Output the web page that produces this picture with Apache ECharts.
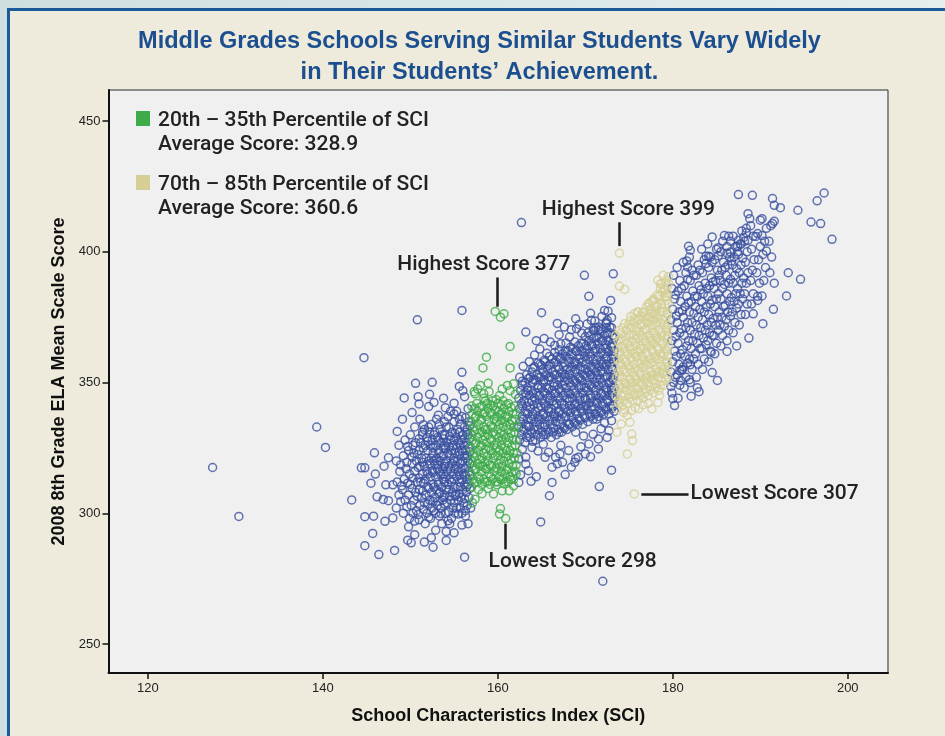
<!DOCTYPE html>
<html>
<head>
<meta charset="utf-8">
<title>Middle Grades Schools Serving Similar Students</title>
<script src="https://cdn.jsdelivr.net/npm/echarts@6/dist/echarts.min.js"></script>
<style>
  html, body { margin: 0; padding: 0; }
  body { width: 945px; height: 736px; position: relative; overflow: hidden;
         background: linear-gradient(90deg, #cfdfe0, #e4eeee); }
  .panel { position: absolute; left: 7px; top: 8px; width: 960px; height: 760px;
           background: #eeebdc; border-left: 3px solid #1b5a99; border-top: 3px solid #1b5a99; }
  #chart { position: absolute; left: 0; top: 0; width: 945px; height: 736px; }
</style>
</head>
<body>
<div class="panel"></div>
<div id="chart"></div>
<script>
// axis ticks
var xTicks = [120, 140, 160, 180, 200]
var yTicks = [250, 300, 350, 400, 450]

// schools outside the two highlighted SCI bands (SCI, score)
var blueSchools = [
  // far left / scattered
  [127.4,317.5],[130.4,298.8],[139.3,333.0],[140.3,325.2],[143.3,305.1],[144.4,317.4],[144.8,317.4],[144.7,359.5],
  [145.9,323.1],[147.5,321.2],[148.5,331.3],[149.3,344.1],[150.6,349.7],[152.5,350.1],[150.9,344.6],[151.0,341.8],
  [152.7,342.4],[152.1,340.8],[154.0,340.4],[155.9,353.9],[156.0,346.9],[156.2,344.6],[155.0,342.1],[151.5,333.9],
  [144.8,298.7],[145.8,298.9],[146.2,306.3],[146.9,305.3],[147.5,304.8],[147.2,310.9],[148.0,310.9],[147.1,296.9],
  [148.0,298.2],[145.7,292.3],[144.8,287.6],[146.4,284.2],[148.2,285.8],[149.8,294.8],[150.5,291.8],[149.7,289.7],
  [150.1,288.7],[151.6,289.0],[152.4,290.6],[154.1,289.6],[156.2,283.2],[153.5,299.9],[154.3,297.1],[155.5,299.7],
  [156.3,299.0],[156.9,302.0],[150.8,374.0],[155.9,377.6],[153.2,337.5],[154.6,339.0],[156.6,340.0],[153.8,344.0],
  [155.6,348.5],[152.2,345.5],[150.2,338.5],[152.9,293.5],[153.6,296.0],[155.0,292.5],[155.9,295.5],[151.0,297.5],
  [152.6,287.0],[156.6,296.0],[146.0,315.0],[147.0,318.0],[145.5,311.5],
  // dense left cluster
  [148.4,302],[148.7,307],[148.5,312],[148.8,316],[148.4,320],[148.7,326],
  [149.2,300],[149.4,305],[149.1,309],[149.3,313],[149.5,317],[149.2,322],[149.4,328],[149.1,336],
  [149.9,298],[150.1,303],[149.8,307],[150.0,311],[149.9,315],[150.2,319],[149.8,324],[150.0,330],
  [150.5,297],[150.7,301],[150.4,305],[150.6,308],[150.8,312],[150.5,316],[150.7,320],[150.4,323],[150.6,327],[150.5,333],
  [151.1,303],[151.3,306],[151.0,309],[151.2,312],[151.4,315],[151.1,318],[151.3,321],[151.0,324],[151.2,327],[151.4,330],[151.1,336],
  [151.7,296],[151.9,300],[151.6,304],[151.8,307],[152.0,310],[151.7,313],[151.9,316],[151.6,318],[151.8,321],[152.0,324],[151.7,326],[151.9,329],[151.6,332],
  [152.3,298],[152.5,302],[152.2,305],[152.4,308],[152.6,311],[152.3,314],[152.5,316],[152.2,319],[152.4,321],[152.6,323],[152.3,326],[152.5,328],[152.2,331],[152.4,334],
  [152.9,300],[153.1,303],[152.8,306],[153.0,309],[153.2,312],[152.9,314],[153.1,317],[152.8,319],[153.0,321],[153.2,324],[152.9,326],[153.1,329],[152.8,331],[153.0,336],
  [153.5,302],[153.7,305],[153.4,308],[153.6,310],[153.8,313],[153.5,315],[153.7,317],[153.4,320],[153.6,322],[153.8,325],[153.5,327],[153.7,330],[153.4,332],
  [154.1,293],[154.0,300],[154.2,304],[153.9,307],[154.1,309],[154.3,311],[154.0,314],[154.2,316],[153.9,318],[154.1,320],[154.3,323],[154.0,325],[154.2,327],[153.9,330],[154.1,333],[154.3,337],
  [154.7,298],[154.9,302],[154.6,305],[154.8,308],[155.0,310],[154.7,312],[154.9,315],[154.6,317],[154.8,319],[155.0,321],[154.7,324],[154.9,326],[154.6,328],[154.8,331],[155.0,335],
  [155.3,302],[155.5,305],[155.2,307],[155.4,310],[155.6,312],[155.3,314],[155.5,316],[155.2,318],[155.4,320],[155.6,322],[155.3,325],[155.5,327],[155.2,329],[155.4,332],[155.6,336],[155.3,339],
  [155.9,300],[156.1,304],[155.8,306],[156.0,309],[156.2,311],[155.9,313],[156.1,315],[155.8,317],[156.0,320],[156.2,322],[155.9,324],[156.1,326],[155.8,328],[156.0,330],[156.2,333],[155.9,337],
  [156.5,303],[156.7,306],[156.4,308],[156.6,311],[156.5,313],[156.7,316],[156.4,318],[156.6,320],[156.5,322],[156.7,325],[156.4,327],[156.6,330],[156.5,332],[156.7,335],
  [148.9,304.5],[149.0,310.5],[148.9,318.5],[149.6,302.5],[149.7,311.5],[149.6,319.5],[149.7,325.5],[150.3,300],[150.2,309.5],[150.3,313.5],
  [150.2,321.5],[150.3,326],[150.9,299.5],[150.8,306.5],[151.0,313.5],[150.9,317.5],[150.8,322.5],[151.0,328.5],[151.5,301.5],[151.4,308.5],
  [151.5,311.5],[151.4,319.5],[151.5,325],[151.4,331],[152.1,298.5],[152.0,303.5],[152.1,309.5],[152.0,315],[152.1,320],[152.0,327.5],
  [152.1,333],[152.7,301],[152.6,304.5],[152.7,310],[152.6,315.5],[152.7,320],[152.6,325],[152.7,330],[153.3,299],[153.2,304.5],
  [153.3,307.5],[153.2,311],[153.3,316],[153.2,318.5],[153.3,323],[153.2,328],[153.3,334],[153.9,303.5],[153.8,306],[153.9,312],
  [153.8,315],[153.9,319],[153.8,322],[153.9,326],[153.8,328.5],[153.9,335],[154.5,296],[154.4,300.5],[154.5,306.5],[154.4,309],
  [154.5,313],[154.4,318],[154.5,322],[154.4,325.5],[154.5,329.5],[154.4,333],[155.1,300],[155.0,304],[155.1,306.5],[155.0,313],
  [155.1,317],[155.0,320],[155.1,323],[155.0,328],[155.1,330.5],[155.0,338],[155.7,302],[155.6,307.5],[155.7,310],[155.6,314.5],
  [155.7,319],[155.6,323.5],[155.7,326],[155.6,331],[155.7,334],[156.3,301],[156.2,305.5],[156.4,310],[156.3,314.5],[156.2,317],
  [156.4,321],[156.3,324],[156.2,328.5],[156.4,331],[156.3,336.5],[156.8,309.5],[156.8,314.5],[156.8,319],[156.8,323.5],[156.8,328.5],[156.8,333.5],
  // middle band scatter
  [162.7,411.2],[169.9,391.0],[173.2,391.6],[170.4,383.0],[172.9,381.4],[165.0,376.7],[163.2,369.3],[172.2,377.6],
  [172.6,377.3],[173.0,374.8],[172.5,373.8],[170.7,373.8],[171.1,373.5],[171.5,371.2],[172.8,371.2],[169.3,372.2],
  [169.0,370.6],[168.2,367.4],[167.8,365.1],[167.2,364.8],[166.5,364.2],[165.0,356.5],[164.2,360.5],[164.8,362.8],
  [165.6,361.2],[166.0,365.5],[163.6,358.0],[162.9,356.2],[165.3,366.8],[167.0,368.3],[168.4,370.2],[169.6,368.9],
  [170.2,372.4],[171.0,369.8],[171.8,370.5],[172.4,372.5],[168.9,374.4],[167.6,371.2],[170.6,376.5],[171.9,375.3],
  [166.8,372.6],[164.4,366.0],
  [164.9,296.7],[165.9,306.7],[166.2,311.8],[171.6,310.2],[173.0,316.5],[172.0,274.0],[170.6,321.6],[171.5,324.6],
  [167.7,314.8],[168.4,317.6],[168.8,319.5],[169.2,321.4],[170.0,322.7],[170.4,326.5],[171.5,328.4],[172.5,329.0],
  [172.7,331.6],[173.0,335.4],[171.8,332.3],[164.4,314.0],[163.5,316.3],[163.2,318.8],[162.4,311.8],[162.4,320.8],
  [163.2,321.4],[165.4,321.4],[165.8,323.3],[166.6,321.4],[167.1,322.7],[167.4,319.5],[166.8,318.9],[166.2,317.6],
  [162.8,324.5],[163.9,325.2],[164.6,323.8],[165.2,326.4],[162.6,314.7],[163.8,312.2],[169.5,325.4],[168.1,324.0],
  [167.2,326.0],[170.9,330.2],[169.8,329.6],[172.2,334.6],[168.9,331.0],[171.3,336.0],[168.9,320.9],
  // dense middle band
  [162.5,328],[162.7,330],[162.4,333],[162.6,335],[162.8,337],[162.5,340],[162.7,342],[162.4,344],[162.6,347],[162.8,349],[162.5,352],
  [163.1,327],[163.3,329],[163.0,332],[163.2,334],[163.4,336],[163.1,339],[163.3,341],[163.0,343],[163.2,346],[163.4,348],[163.1,350],[163.3,353],
  [163.7,329],[163.9,331],[163.6,333],[163.8,336],[164.0,338],[163.7,340],[163.9,343],[163.6,345],[163.8,347],[164.0,350],[163.7,352],[163.9,354],
  [164.3,328],[164.5,330],[164.2,333],[164.4,335],[164.6,337],[164.3,339],[164.5,342],[164.2,344],[164.4,346],[164.6,349],[164.3,351],[164.5,353],[164.2,356],
  [164.9,329],[165.1,331],[164.8,334],[165.0,336],[165.2,338],[164.9,341],[165.1,343],[164.8,345],[165.0,348],[165.2,350],[164.9,352],[165.1,355],[164.8,357],
  [165.5,330],[165.7,332],[165.4,334],[165.6,337],[165.8,339],[165.5,341],[165.7,344],[165.4,346],[165.6,348],[165.8,351],[165.5,353],[165.7,355],[165.4,358],
  [166.1,329],[166.3,331],[166.0,334],[166.2,336],[166.4,338],[166.1,340],[166.3,343],[166.0,345],[166.2,347],[166.4,350],[166.1,352],[166.3,354],[166.0,357],[166.2,359],
  [166.7,330],[166.9,332],[166.6,335],[166.8,337],[167.0,339],[166.7,342],[166.9,344],[166.6,346],[166.8,349],[167.0,351],[166.7,353],[166.9,356],[166.6,358],[166.8,360],
  [167.3,331],[167.5,333],[167.2,336],[167.4,338],[167.6,340],[167.3,342],[167.5,345],[167.2,347],[167.4,349],[167.6,352],[167.3,354],[167.5,356],[167.2,359],[167.4,361],
  [167.9,332],[168.1,334],[167.8,337],[168.0,339],[168.2,341],[167.9,344],[168.1,346],[167.8,348],[168.0,351],[168.2,353],[167.9,355],[168.1,358],[167.8,360],[168.0,362],
  [168.5,333],[168.7,335],[168.4,337],[168.6,340],[168.8,342],[168.5,344],[168.7,347],[168.4,349],[168.6,351],[168.8,354],[168.5,356],[168.7,358],[168.4,361],[168.6,363],
  [169.1,334],[169.3,336],[169.0,338],[169.2,341],[169.4,343],[169.1,345],[169.3,348],[169.0,350],[169.2,352],[169.4,355],[169.1,357],[169.3,359],[169.0,362],[169.2,364],
  [169.7,334],[169.9,337],[169.6,339],[169.8,341],[170.0,344],[169.7,346],[169.9,348],[169.6,351],[169.8,353],[170.0,355],[169.7,358],[169.9,360],[169.6,362],[169.8,365],
  [170.3,335],[170.5,338],[170.2,340],[170.4,342],[170.6,345],[170.3,347],[170.5,349],[170.2,352],[170.4,354],[170.6,356],[170.3,359],[170.5,361],[170.2,363],[170.4,366],[170.3,369],
  [170.9,336],[171.1,338],[170.8,341],[171.0,343],[171.2,345],[170.9,348],[171.1,350],[170.8,352],[171.0,355],[171.2,357],[170.9,359],[171.1,362],[170.8,364],[171.0,367],[170.9,370],
  [171.5,337],[171.7,339],[171.4,342],[171.6,344],[171.8,346],[171.5,349],[171.7,351],[171.4,353],[171.6,356],[171.8,358],[171.5,360],[171.7,363],[171.4,365],[171.6,367],[171.5,370],
  [172.1,338],[172.3,340],[172.0,342],[172.2,345],[172.4,347],[172.1,349],[172.3,352],[172.0,354],[172.2,356],[172.4,359],[172.1,361],[172.3,363],[172.0,366],[172.2,368],[172.4,371],
  [172.7,338],[172.9,341],[172.6,343],[172.8,345],[173.0,348],[172.7,350],[172.9,352],[172.6,355],[172.8,357],[173.0,359],[172.7,362],[172.9,364],[172.6,366],[172.8,369],
  [173.3,339],[173.2,341],[173.3,344],[173.1,346],[173.3,348],[173.2,351],[173.3,353],[173.1,355],[173.3,358],[173.2,360],[173.3,362],[173.1,365],[173.3,367],
  [162.8,331.5],[162.9,336],[162.8,341],[162.9,345.5],[162.8,350.5],
  [163.4,330.5],[163.5,333.5],[163.4,338],[163.5,342.5],[163.4,347],[163.5,351.5],
  [164.0,327.5],[164.1,332],[164.0,337],[164.1,341.5],[164.0,346],[164.1,351],[164.0,355.5],
  [164.6,332],[164.7,336],[164.6,340.5],[164.7,345],[164.6,348],[164.7,352],[164.6,357.5],
  [165.2,330],[165.3,333],[165.2,337.5],[165.3,342],[165.2,346.5],[165.3,351],[165.2,354],[165.3,358.5],
  [165.8,331],[165.9,335.5],[165.8,340],[165.9,343],[165.8,347.5],[165.9,352],[165.8,356.5],[165.9,360],
  [166.4,332.5],[166.5,337],[166.4,341.5],[166.5,346],[166.4,348.5],[166.5,353],[166.4,357.5],[166.5,361.5],
  [167.0,331],[167.1,334],[167.0,338.5],[167.1,343],[167.0,347.5],[167.1,352],[167.0,355],[167.1,359.5],[167.0,362.5],
  [167.6,332.5],[167.7,337],[167.6,341.5],[167.7,346],[167.6,350.5],[167.7,353],[167.6,357.5],[167.7,362],
  [168.2,334],[168.3,338.5],[168.2,343],[168.3,345.5],[168.2,350],[168.3,354.5],[168.2,359],[168.3,363.5],
  [168.8,334.5],[168.9,339],[168.8,341.5],[168.9,346],[168.8,350.5],[168.9,355],[168.8,357.5],[168.9,362],[168.8,365.5],
  [169.4,335.5],[169.5,340],[169.4,344.5],[169.5,349],[169.4,351.5],[169.5,356],[169.4,360.5],[169.5,365],
  [170.0,336.5],[170.1,341],[170.0,343.5],[170.1,348],[170.0,352.5],[170.1,357],[170.0,361.5],[170.1,364],[170.0,367.5],
  [170.6,337],[170.7,339.5],[170.6,344],[170.7,348.5],[170.6,353],[170.7,355.5],[170.6,360],[170.7,364.5],[170.6,368],
  [171.2,338],[171.3,342.5],[171.2,347],[171.3,351.5],[171.2,354],[171.3,358.5],[171.2,363],[171.3,367.5],[171.2,371],
  [171.8,338.5],[171.9,341],[171.8,345.5],[171.9,350],[171.8,354.5],[171.9,357],[171.8,361.5],[171.9,366],[171.8,369.5],
  [172.4,339.5],[172.5,343.5],[172.4,348],[172.5,352.5],[172.4,357],[172.5,360],[172.4,364.5],[172.5,369],[172.4,373],
  [173.0,340],[173.1,344.5],[173.0,347],[173.1,351.5],[173.0,356],[173.1,360.5],[173.0,363.5],[173.1,368],[173.0,371],
  // right band
  [179.9,346],[180.1,350],[179.8,354],[180.0,358],[180.2,362],[179.9,366],[180.1,370],[179.8,374],[180.0,378],[180.2,382],[179.9,386],[180.1,391],
  [180.6,344],[180.8,349],[180.5,353],[180.7,357],[180.9,361],[180.6,365],[180.8,369],[180.5,373],[180.7,377],[180.9,381],[180.6,385],[180.8,389],[180.5,394],
  [181.3,348],[181.5,352],[181.2,356],[181.4,360],[181.6,364],[181.3,368],[181.5,371],[181.2,375],[181.4,379],[181.6,383],[181.3,387],[181.5,392],[181.2,396],
  [182.0,350],[182.2,355],[181.9,359],[182.1,363],[182.3,366],[182.0,370],[182.2,373],[181.9,377],[182.1,381],[182.3,385],[182.0,389],[182.2,393],[181.9,398],
  [182.7,352],[182.9,357],[182.6,361],[182.8,365],[183.0,368],[182.7,372],[182.9,375],[182.6,379],[182.8,383],[183.0,387],[182.7,391],[182.9,395],
  [183.4,355],[183.6,359],[183.3,363],[183.5,367],[183.7,370],[183.4,374],[183.6,377],[183.3,381],[183.5,384],[183.7,388],[183.4,392],[183.6,397],[183.3,401],
  [184.1,358],[184.3,362],[184.0,366],[184.2,369],[184.4,373],[184.1,376],[184.3,380],[184.0,383],[184.2,387],[184.4,390],[184.1,394],[184.3,398],[184.0,403],
  [184.8,361],[185.0,365],[184.7,368],[184.9,372],[185.1,375],[184.8,379],[185.0,382],[184.7,386],[184.9,389],[185.1,393],[184.8,397],[185.0,401],
  [185.5,364],[185.7,368],[185.4,372],[185.6,375],[185.8,379],[185.5,382],[185.7,386],[185.4,389],[185.6,393],[185.8,396],[185.5,400],[185.7,404],
  [186.2,366],[186.4,370],[186.1,374],[186.3,377],[186.5,381],[186.2,384],[186.4,388],[186.1,391],[186.3,395],[186.5,398],[186.2,402],[186.4,406],
  [186.9,369],[187.1,373],[186.8,377],[187.0,381],[187.2,384],[186.9,388],[187.1,391],[186.8,395],[187.0,398],[187.2,402],[186.9,406],
  [187.6,372],[187.8,376],[187.5,380],[187.7,384],[187.9,388],[187.6,392],[187.8,395],[187.5,399],[187.7,403],[187.9,408],
  [188.3,376],[188.5,380],[188.2,384],[188.4,388],[188.6,392],[188.3,396],[188.5,400],[188.2,404],[188.4,409],
  [189.0,380],[189.2,384],[188.9,389],[189.1,393],[189.3,397],[189.0,401],[189.2,406],[188.9,410],
  [189.7,383],[189.9,388],[189.6,392],[189.8,397],[190.0,402],[189.7,407],
  [190.4,389],[190.6,394],[190.3,399],[190.5,404],[190.7,409],
  [191.1,392],[191.3,398],[191.0,404],[191.2,410],
  [180.3,352],[180.4,360],[180.3,367.5],[180.4,375.5],[180.3,383.5],
  [181.0,355],[181.1,362.5],[181.0,370.5],[181.1,377.5],[181.0,386],
  [181.7,357.5],[181.8,366],[181.7,373],[181.8,380.5],[181.7,389.5],
  [182.4,359],[182.5,368.5],[182.4,376.5],[182.5,383],[182.4,391],
  [183.1,363],[183.2,371],[183.1,378],[183.2,385.5],[183.1,393],
  [183.8,364.5],[183.9,372],[183.8,379],[183.9,386],[183.8,395.5],
  [184.5,368],[184.6,374.5],[184.5,381.5],[184.6,388.5],[184.5,396],
  [185.2,370],[185.3,377],[185.2,384],[185.3,391],[185.2,398.5],
  [185.9,371.5],[186.0,379.5],[185.9,387.5],[186.0,394],
  [186.6,375.5],[186.7,382.5],[186.6,389.5],[186.7,396.5],[186.6,404],
  [187.3,378.5],[187.4,386],[187.3,393.5],[187.4,400],
  [188.0,382],[188.1,390],[188.0,397.5],[188.1,405.5],
  // right scatter
  [184.4,361.6],[186.2,361.9],[184.5,353.8],[182.8,348.0],[182.1,344.8],[180.2,341.2],[180.0,343.8],[181.9,351.1],
  [180.9,350.8],[179.8,348.5],[182.0,356.8],[180.8,354.6],[181.1,354.9],[183.0,346.5],[185.1,350.8],[187.3,364.0],
  [188.7,367.0],[190.3,372.5],[191.5,378.0],[189.2,376.3],[190.2,383.1],[189.7,381.4],[193.0,383.1],[191.6,388.0],
  [190.7,400.3],[193.2,392.0],[194.6,389.5],
  [187.5,421.9],[189.1,421.6],[191.4,420.4],[191.6,417.8],[192.3,416.9],[194.3,415.9],[196.5,419.5],[197.3,422.5],
  [195.8,411.4],[196.9,410.8],[198.2,404.8],[188.6,414.6],[188.8,412.7],[190.0,412.1],[190.2,412.7],[191.4,410.8],
  [191.6,411.7],[184.5,405.7],[185.9,406.2],[188.4,407.3],[189.5,405.9],[190.2,406.2],[187.5,404.4],[187.4,402.1],
  [187.8,402.9],[188.6,404.4],[185.2,401.6],[181.8,402.1],[182.0,400.6],[181.6,396.5],[181.7,394.2],[183.8,398.3],
  [184.1,398.3],[186.2,399.5],[186.6,399.9]
]

// 20th-35th percentile of SCI
var greenSchools = [
  [157.0,310],[157.2,313],[156.9,315],[157.1,318],[157.0,320],[157.2,323],[156.9,325],[157.1,328],[157.0,330],[157.2,333],[156.9,335],[157.1,338],[157.0,341],
  [157.6,312],[157.8,314],[157.5,317],[157.7,319],[157.6,322],[157.8,324],[157.5,327],[157.7,329],[157.6,332],[157.8,334],[157.5,337],[157.7,339],[157.6,342],
  [158.2,311],[158.4,313],[158.1,316],[158.3,318],[158.2,321],[158.4,323],[158.1,326],[158.3,328],[158.2,331],[158.4,333],[158.1,336],[158.3,338],[158.2,341],[158.4,344],
  [158.8,312],[159.0,315],[158.7,317],[158.9,320],[158.8,322],[159.0,325],[158.7,327],[158.9,330],[158.8,332],[159.0,335],[158.7,337],[158.9,340],[158.8,342],
  [159.4,313],[159.6,316],[159.3,318],[159.5,321],[159.4,323],[159.6,326],[159.3,328],[159.5,331],[159.4,333],[159.6,336],[159.3,338],[159.5,341],[159.4,343],
  [160.0,312],[160.2,314],[159.9,317],[160.1,319],[160.0,322],[160.2,324],[159.9,327],[160.1,329],[160.0,332],[160.2,334],[159.9,337],[160.1,339],[160.0,342],
  [160.6,313],[160.8,315],[160.5,318],[160.7,320],[160.6,323],[160.8,325],[160.5,328],[160.7,330],[160.6,333],[160.8,335],[160.5,338],[160.7,340],[160.6,343],
  [161.2,312],[161.4,314],[161.1,317],[161.3,319],[161.2,322],[161.4,324],[161.1,327],[161.3,329],[161.2,332],[161.4,334],[161.1,337],[161.3,339],[161.2,342],
  [161.8,313],[162.0,316],[161.7,318],[161.9,321],[161.8,323],[162.0,326],[161.7,328],[161.9,331],[161.8,333],[162.0,336],[161.7,338],[161.9,341],
  [157.3,311.5],[157.4,316.5],[157.3,321.5],[157.4,326.5],[157.3,331.5],[157.4,336.5],[157.3,340],
  [157.9,313],[158.0,318],[157.9,320.5],[158.0,325.5],[157.9,330.5],[158.0,335.5],[157.9,340.5],
  [158.5,312],[158.6,317],[158.5,319.5],[158.6,324.5],[158.5,329.5],[158.6,332],[158.5,338.5],[158.6,343],
  [159.1,311],[159.2,314],[159.1,318.5],[159.2,324],[159.1,328.5],[159.2,333.5],[159.1,338.5],[159.2,341.5],
  [159.7,312],[159.8,317.5],[159.7,322],[159.8,325],[159.7,330],[159.8,335],[159.7,339.5],[159.8,343.5],
  [160.3,313],[160.4,316],[160.3,320.5],[160.4,326],[160.3,330.5],[160.4,335.5],[160.3,338],[160.4,341.5],
  [160.9,312],[161.0,316.5],[160.9,321.5],[161.0,324],[160.9,329],[161.0,333.5],[160.9,337],[161.0,341.5],
  [161.5,313],[161.6,315.5],[161.5,320.5],[161.6,325.5],[161.5,330.5],[161.6,335.5],[161.5,340.5],
  [162.1,318.5],[162.2,323],[162.1,328],[162.2,333],[162.1,338],
  [159.7,377.2],[160.7,376.3],[160.3,375.0],[161.4,363.8],[158.7,359.7],[158.3,355.6],[161.4,355.6],[157.4,345.7],
  [158.4,345.7],[158.9,349.7],[158.0,348.9],[161.1,348.9],[161.4,346.9],[160.5,347.5],[161.8,349.5],[157.3,346.5],
  [159.5,307.4],[160.3,301.8],[160.2,299.7],[160.9,298.0],[157.4,305.4],[160.5,308.6],[161.3,308.6],[160.7,311.2],
  [159.9,310.9],[158.2,307.5],[157.8,309.0],[158.9,309.5],[161.8,310.5],[162.1,315.0],[157.1,304.0],[162.0,345.5],
  [159.0,346.5],[160.2,345.0],[157.7,347.5]
]

// 70th-85th percentile of SCI
var khakiSchools = [
  [173.6,340],[173.8,342],[173.5,345],[173.7,347],[173.9,349],[173.6,352],[173.8,354],[173.5,356],[173.7,359],[173.9,361],[173.6,363],[173.8,366],[173.5,368],
  [174.2,341],[174.4,343],[174.1,345],[174.3,348],[174.5,350],[174.2,352],[174.4,355],[174.1,357],[174.3,359],[174.5,362],[174.2,364],[174.4,366],[174.1,369],[174.3,371],
  [174.8,342],[175.0,344],[174.7,347],[174.9,349],[175.1,351],[174.8,354],[175.0,356],[174.7,358],[174.9,361],[175.1,363],[174.8,365],[175.0,368],[174.7,370],[174.9,372],
  [175.4,343],[175.6,345],[175.3,347],[175.5,350],[175.7,352],[175.4,354],[175.6,357],[175.3,359],[175.5,361],[175.7,364],[175.4,366],[175.6,368],[175.3,371],[175.5,373],
  [176.0,343],[176.2,346],[175.9,348],[176.1,350],[176.3,353],[176.0,355],[176.2,357],[175.9,360],[176.1,362],[176.3,364],[176.0,367],[176.2,369],[175.9,371],[176.1,374],[176.0,377],
  [176.6,344],[176.8,346],[176.5,349],[176.7,351],[176.9,353],[176.6,356],[176.8,358],[176.5,360],[176.7,363],[176.9,365],[176.6,367],[176.8,370],[176.5,372],[176.7,374],[176.6,377],
  [177.2,345],[177.4,347],[177.1,350],[177.3,352],[177.5,354],[177.2,357],[177.4,359],[177.1,361],[177.3,364],[177.5,366],[177.2,368],[177.4,371],[177.1,373],[177.3,375],[177.5,378],[177.2,380],
  [177.8,346],[178.0,348],[177.7,351],[177.9,353],[178.1,355],[177.8,358],[178.0,360],[177.7,362],[177.9,365],[178.1,367],[177.8,369],[178.0,372],[177.7,374],[177.9,376],[178.1,379],[177.8,382],
  [178.4,347],[178.6,349],[178.3,352],[178.5,354],[178.7,356],[178.4,359],[178.6,361],[178.3,363],[178.5,366],[178.7,368],[178.4,370],[178.6,373],[178.3,375],[178.5,377],[178.7,380],[178.4,383],[178.6,386],
  [179.0,349],[179.2,351],[178.9,354],[179.1,356],[179.3,358],[179.0,361],[179.2,363],[178.9,365],[179.1,368],[179.3,370],[179.0,372],[179.2,375],[178.9,377],[179.1,380],[179.3,383],[179.0,386],[179.2,389],
  [179.5,352],[179.5,356],[179.4,360],[179.5,364],[179.4,368],[179.5,372],[179.4,376],[179.5,380],[179.4,384],[179.5,388],
  [173.9,343.5],[174.0,348],[173.9,352.5],[174.0,357.5],[173.9,362],[174.0,366.5],[173.9,370],
  [174.5,345],[174.6,349.5],[174.5,354],[174.6,358],[174.5,363],[174.6,367.5],[174.5,372.5],
  [175.1,345.5],[175.2,350],[175.1,355],[175.2,359.5],[175.1,364],[175.2,368.5],[175.1,373.5],
  [175.7,346],[175.8,351],[175.7,355.5],[175.8,360],[175.7,365],[175.8,369.5],[175.7,374.5],
  [176.3,345],[176.4,349.5],[176.3,354],[176.4,358.5],[176.3,363],[176.4,368],[176.3,372.5],[176.4,375.5],
  [176.9,347.5],[177.0,352],[176.9,357],[177.0,361.5],[176.9,366],[177.0,370.5],[176.9,375.5],[177.0,379],
  [177.5,348.5],[177.6,353],[177.5,357.5],[177.6,362.5],[177.5,367],[177.6,372],[177.5,376.5],[177.6,381],
  [178.1,349.5],[178.2,354],[178.1,359],[178.2,363.5],[178.1,368],[178.2,373],[178.1,377.5],[178.2,383.5],
  [178.7,350.5],[178.8,355],[178.7,360],[178.8,364.5],[178.7,369],[178.8,374],[178.7,378.5],[178.8,384.5],[178.7,388],
  [179.3,353],[179.4,357.5],[179.3,362],[179.4,366.5],[179.3,371],[179.4,376.5],[179.3,381.5],[179.4,387],
  [173.9,399.5],[173.9,386.9],[174.5,385.6],[178.9,391.0],[179.5,390.5],[178.3,389.1],[178.6,387.6],[179.1,385.2],
  [178.5,383.3],[179.1,382.6],[177.8,381.4],[177.3,380.4],[178.2,379.5],[175.6,376.3],[176.0,376.9],[175.2,375.3],
  [176.7,376.9],[177.1,375.0],[177.7,376.3],
  [174.4,338.5],[174.8,337.4],[175.3,339.3],[175.7,340.5],[175.1,334.8],[174.1,334.1],[173.6,331.0],[175.3,330.3],
  [175.4,327.8],[174.8,322.7],[175.6,307.4],[176.6,341.5],[177.6,339.9],[178.3,342.4],[178.5,345.0],[177.2,342.0],
  [176.1,340.0],[174.5,339.5]
]

// call-outs: [label, from, to]
var callouts = [
  ['Highest Score 399', [173.9, 402.2], [173.9, 411.3]],
  ['Highest Score 377', [159.9, 379.0], [159.9, 390.2]],
  ['Lowest Score 298',  [160.9, 296.0], [160.9, 286.2]],
  ['Lowest Score 307',  [176.4, 307.4], [181.8, 307.4]]
]
var calloutPad = [[0, 0, 0, 18], [0, 26, 0, 0], [0, 0, 0, 134], [0, 0, 0, 0]]

var textFont = 'Roboto, "Liberation Sans", sans-serif'
var textColor = '#222'

var chart = echarts.init(document.getElementById('chart'), null, { renderer: 'canvas' })

function ring (color) {
  return {
    type: 'scatter',
    symbol: 'circle',
    symbolSize: 8,
    itemStyle: { color: 'rgba(0,0,0,0)', borderColor: color, borderWidth: 1.5 },
    emphasis: { disabled: true },
    animation: false,
    silent: true,
    large: false
  }
}

var blue = ring('#3a50a0')
blue.name = 'Other schools'
blue.data = blueSchools

var green = ring('#3dab48')
green.name = '20th – 35th Percentile of SCI'
green.data = greenSchools

var khaki = ring('#d5cf95')
khaki.name = '70th – 85th Percentile of SCI'
khaki.data = khakiSchools

var notes = {
  type: 'scatter',
  name: 'notes',
  data: [],
  silent: true,
  markLine: {
    silent: true,
    animation: false,
    symbol: ['none', 'none'],
    lineStyle: { color: '#1a1a1a', width: 2.5, type: 'solid' },
    data: callouts.map(function (c, i) {
      return [
        { coord: c[1] },
        {
          coord: c[2],
          label: {
            show: true,
            position: 'end',
            distance: 2,
            formatter: c[0],
            color: textColor,
            fontFamily: textFont,
            fontWeight: 500,
            fontSize: 21,
            padding: calloutPad[i]
          }
        }
      ]
    })
  }
}

function legendBlock (top, color, line1, line2) {
  return [
    { type: 'rect', left: 136, top: top, shape: { width: 14, height: 15 }, style: { fill: color } },
    { type: 'text', left: 158, top: top - 1, style: { text: line1, fill: textColor, font: '500 21px ' + textFont } },
    { type: 'text', left: 158, top: top + 23, style: { text: line2, fill: textColor, font: '500 21px ' + textFont } }
  ]
}

var option = {
  backgroundColor: 'transparent',
  title: {
    text: 'Middle Grades Schools Serving Similar Students Vary Widely\nin Their Students’ Achievement.',
    left: 479.5,
    top: 26,
    textAlign: 'center',
    padding: 0,
    textStyle: {
      color: '#1c4f8f',
      fontFamily: '"Liberation Sans", Arial, sans-serif',
      fontWeight: 'bold',
      fontSize: 23.5,
      lineHeight: 31
    }
  },
  grid: {
    left: 108.5, top: 90, right: 57, bottom: 63,
    show: true,
    backgroundColor: '#f0f0f0',
    borderColor: '#2a2a2a',
    borderWidth: 1
  },
  xAxis: {
    type: 'value',
    min: 115.5,
    max: 204.6,
    name: 'School Characteristics Index (SCI)',
    nameLocation: 'middle',
    nameGap: 34,
    nameTextStyle: { color: '#111', fontFamily: '"Liberation Sans", Arial, sans-serif', fontWeight: 'bold', fontSize: 18 },
    axisLine: { show: true, lineStyle: { color: '#111', width: 2 } },
    axisTick: { show: true, length: 6, inside: false, customValues: xTicks, lineStyle: { color: '#111', width: 1.5 } },
    axisLabel: { customValues: xTicks, color: '#222', fontFamily: '"Liberation Sans", Arial, sans-serif', fontSize: 13, margin: 9 },
    splitLine: { show: false }
  },
  yAxis: {
    type: 'value',
    min: 238.9,
    max: 461.9,
    name: '2008 8th Grade ELA Mean Scale Score',
    nameLocation: 'middle',
    nameRotate: 90,
    nameGap: 40,
    nameTextStyle: { color: '#111', fontFamily: '"Liberation Sans", Arial, sans-serif', fontWeight: 'bold', fontSize: 18 },
    axisLine: { show: true, lineStyle: { color: '#111', width: 2 } },
    axisTick: { show: true, length: 6, inside: false, customValues: yTicks, lineStyle: { color: '#111', width: 1.5 } },
    axisLabel: { customValues: yTicks, color: '#222', fontFamily: '"Liberation Sans", Arial, sans-serif', fontSize: 13, margin: 8 },
    splitLine: { show: false }
  },
  graphic: [].concat(
    legendBlock(111, '#3dab48', '20th – 35th Percentile of SCI', 'Average Score: 328.9'),
    legendBlock(175, '#d5cf95', '70th – 85th Percentile of SCI', 'Average Score: 360.6')
  ),
  series: [blue, green, khaki, notes]
}

chart.setOption(option)
</script>
</body>
</html>
